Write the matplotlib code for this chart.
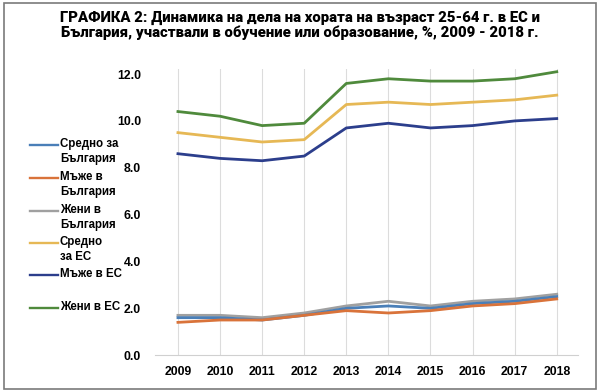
import matplotlib
matplotlib.use('Agg')
import matplotlib.pyplot as plt
from matplotlib.lines import Line2D
from matplotlib.patches import Rectangle

# данни (прочетени от графиката)
years = [2009, 2010, 2011, 2012, 2013, 2014, 2015, 2016, 2017, 2018]
bg_avg = [1.6, 1.6, 1.5, 1.7, 2.0, 2.1, 2.0, 2.2, 2.3, 2.5]
bg_men = [1.4, 1.5, 1.5, 1.7, 1.9, 1.8, 1.9, 2.1, 2.2, 2.4]
bg_women = [1.7, 1.7, 1.6, 1.8, 2.1, 2.3, 2.1, 2.3, 2.4, 2.6]
eu_avg = [9.5, 9.3, 9.1, 9.2, 10.7, 10.8, 10.7, 10.8, 10.9, 11.1]
eu_men = [8.6, 8.4, 8.3, 8.5, 9.7, 9.9, 9.7, 9.8, 10.0, 10.1]
eu_women = [10.4, 10.2, 9.8, 9.9, 11.6, 11.8, 11.7, 11.7, 11.8, 12.1]
yticks = [0, 2, 4, 6, 8, 10, 12]

labels = ['Средно за\nБългария', 'Мъже в\nБългария', 'Жени в\nБългария',
          'Средно\nза ЕС', 'Мъже в ЕС', 'Жени в ЕС']
series = [bg_avg, bg_men, bg_women, eu_avg, eu_men, eu_women]
colors = ['#4a7fb8', '#d9733a', '#a0a0a0', '#e6b855', '#2c3e8c', '#4f8a3c']

plt.rcParams['font.family'] = ['Liberation Sans', 'DejaVu Sans']

fig = plt.figure(figsize=(6, 3.92), dpi=100)
ax = fig.add_axes([0.258, 0.094, 0.705, 0.729])

order = [2, 0, 1, 3, 4, 5]
for i in order:
    ax.plot(years, series[i], color=colors[i], linewidth=2.0, zorder=3)

ax.set_xlim(2008.45, 2018.5)
ax.set_ylim(0, 12.2)
ax.set_xticks(years)
ax.set_xticklabels([str(y) for y in years], fontsize=8.8, fontweight='bold')
ax.set_yticks(yticks)
ax.set_yticklabels([f'{v:.1f}' for v in yticks], fontsize=8.8, fontweight='bold')
ax.tick_params(length=0, pad=10)
ax.tick_params(axis='x', pad=8)
ax.grid(axis='x', color='#dcdcdc', linewidth=0.8)
for s in ['top', 'right', 'left']:
    ax.spines[s].set_visible(False)
ax.spines['bottom'].set_color('#d0d0d0')

# легенда вляво
rows_y = [145, 178, 211, 243, 275, 308]
for lab, col, py in zip(labels, colors, rows_y):
    yf = 1 - py / 392
    fig.add_artist(Line2D([30 / 600, 58 / 600], [yf, yf], color=col, linewidth=1.7))
    fig.text(60 / 600, yf + 0.017, lab, fontsize=8.3, fontweight='bold', va='top',
             ha='left', linespacing=1.3)

fig.text(0.5, 0.972, 'ГРАФИКА 2: Динамика на дела на хората на възраст 25-64 г. в ЕС и\n'
         'България, участвали в обучение или образование, %, 2009 - 2018 г.',
         ha='center', va='top', fontsize=10.7, fontweight='heavy',
         family=['Roboto', 'DejaVu Sans'], linespacing=1.0)

fig.add_artist(Rectangle((0.006, 0.008), 0.988, 0.984, transform=fig.transFigure,
                         fill=False, edgecolor='#7a7a7a', linewidth=1.2))

plt.savefig('out.png', dpi=100)
